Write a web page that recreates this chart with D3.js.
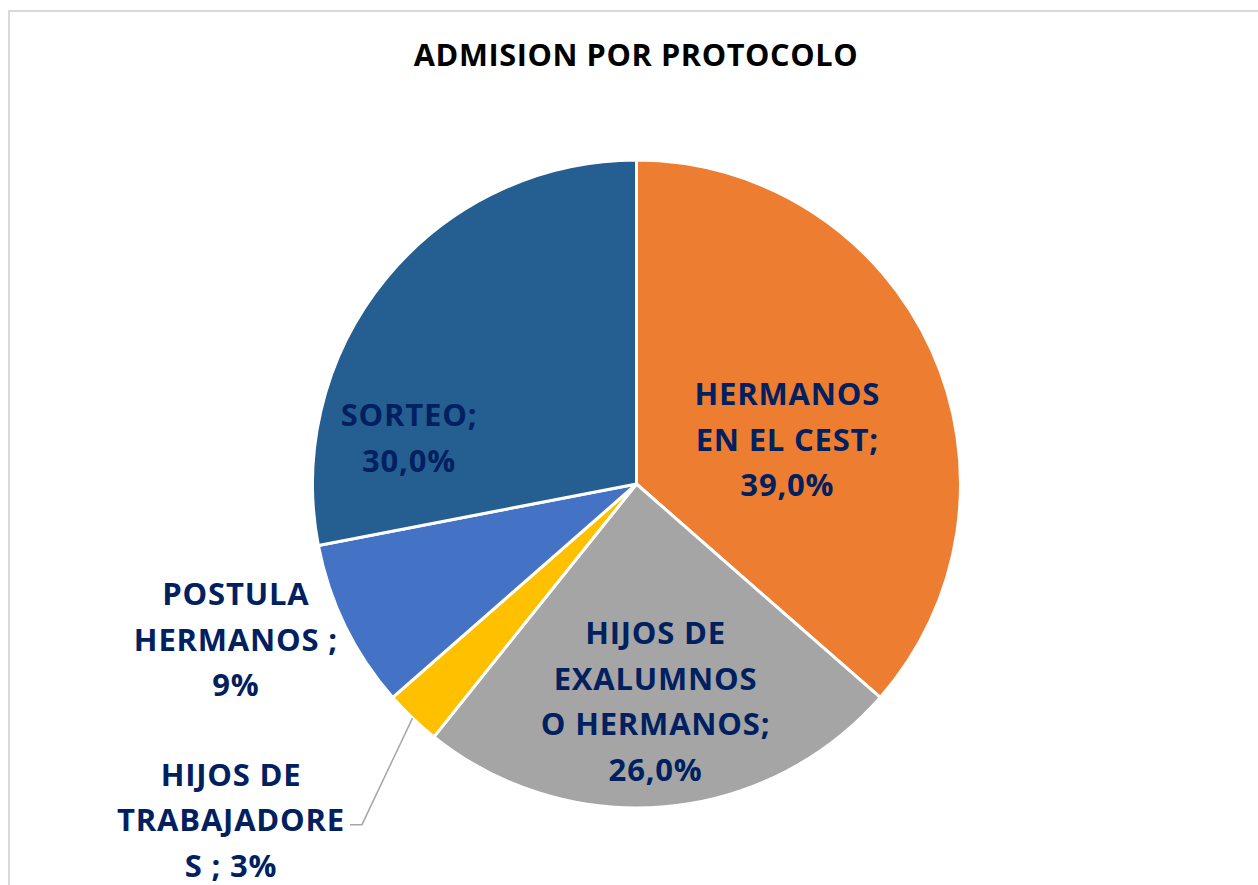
<!DOCTYPE html>
<html lang="es">
  <head>
    <meta charset="utf-8" />
    <title>Admision por protocolo</title>
    <script src="https://d3js.org/d3.v7.min.js"></script>
    <style>
      html, body { margin: 0; padding: 0; background: #fff; overflow: hidden; }
      text { font-family: "Open Sans", "Noto Sans", sans-serif; font-weight: 700; }
    </style>
  </head>
  <body>
    <svg id="chart" width="1258" height="885"></svg>
    <script>
      // data
      const categories = [
        "HERMANOS EN EL CEST",
        "HIJOS DE EXALUMNOS O HERMANOS",
        "HIJOS DE TRABAJADORES",
        "POSTULA HERMANOS",
        "SORTEO"
      ];
      const values = [39, 26, 3, 9, 30];
      const valueLabels = ["39,0%", "26,0%", "3%", "9%", "30,0%"];
      // label text as wrapped in the original
      const labelLines = [
        ["HERMANOS", "EN EL CEST;", "39,0%"],
        ["HIJOS DE", "EXALUMNOS", "O HERMANOS;", "26,0%"],
        ["HIJOS DE", "TRABAJADORE", "S ; 3%"],
        ["POSTULA", "HERMANOS ;", "9%"],
        ["SORTEO;", "30,0%"]
      ];
      const colors = ["#ED7D31", "#A5A5A5", "#FFC000", "#4472C4", "#255E91"];

      // label placement (angle in degrees from 12 o'clock, distance from centre)
      const labelPos = [
        { a: 73.9, r: 157 },
        { a: 175.0, r: 219 },
        { a: 230.3, r: 527 },
        { a: 248.7, r: 430 },
        { a: 281.3, r: 232 }
      ];
      const leaderIdx = 2;

      var svg = d3.select("#chart");
      var cx = 636.5, cy = 484, radius = 324;
      var lineGap = 45.5, capH = 21;

      // chart border
      svg.append("rect")
        .attr("x", 9).attr("y", 11)
        .attr("width", 1300).attr("height", 900)
        .attr("fill", "none")
        .attr("stroke", "#d9d9d9")
        .attr("stroke-width", 2);

      svg.append("text")
        .attr("x", 636).attr("y", 66)
        .attr("text-anchor", "middle")
        .style("font-size", "30.7px")
        .style("letter-spacing", "0.6px")
        .attr("fill", "#000")
        .text("ADMISION POR PROTOCOLO");

      var g = svg.append("g").attr("transform", "translate(" + cx + "," + cy + ")");

      var pie = d3.pie().sort(null).value((d) => d);
      var arcs = pie(values);
      var arc = d3.arc().innerRadius(0).outerRadius(radius);

      g.selectAll("path.slice")
        .data(arcs)
        .join("path")
        .attr("class", "slice")
        .attr("d", arc)
        .attr("fill", (d, i) => colors[i])
        .attr("stroke", "#fff")
        .attr("stroke-width", 3)
        .attr("stroke-linejoin", "round");

      function polar(aDeg, r) {
        var a = (aDeg * Math.PI) / 180;
        return [r * Math.sin(a), -r * Math.cos(a)];
      }

      var labels = g.selectAll("g.lbl")
        .data(arcs)
        .join("g")
        .attr("class", "lbl")
        .attr("transform", function (d, i) {
          var p = polar(labelPos[i].a, labelPos[i].r);
          return "translate(" + p[0] + "," + p[1] + ")";
        });

      labels.each(function (d, i) {
        var lines = labelLines[i];
        var n = lines.length;
        var t = d3.select(this).append("text")
          .attr("text-anchor", "middle")
          .attr("fill", "#002060")
          .style("font-size", "31px")
          .style("letter-spacing", "0.8px");
        lines.forEach(function (s, k) {
          t.append("tspan")
            .attr("x", 0)
            .attr("y", capH / 2 + (k - (n - 1) / 2) * lineGap)
            .text(s);
        });
      });

      // leader line for the small slice
      var lbl = labels.filter((d, i) => i === leaderIdx);
      var midLine = lbl.selectAll("tspan").nodes()[1];
      var lw = midLine.getComputedTextLength();
      var lp = polar(labelPos[leaderIdx].a, labelPos[leaderIdx].r);
      var sl = arcs[leaderIdx];
      var mid = ((sl.startAngle + sl.endAngle) / 2) * 180 / Math.PI;
      var start = polar(mid, radius);
      var endX = lp[0] + lw / 2 + 5;
      var endY = lp[1] + 4;
      g.append("polyline")
        .attr("points", [start, [endX + 12, endY], [endX, endY]].map((p) => p.join(",")).join(" "))
        .attr("fill", "none")
        .attr("stroke", "#A6A6A6")
        .attr("stroke-width", 1.5);
    </script>
  </body>
</html>
